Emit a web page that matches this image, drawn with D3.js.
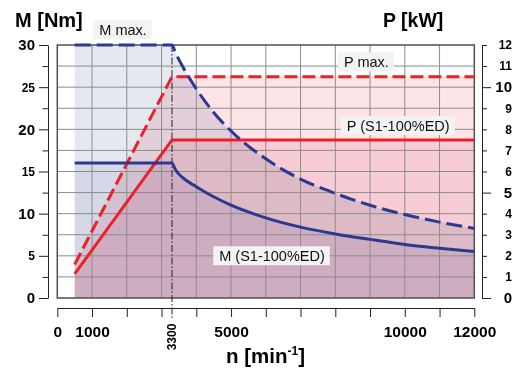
<!DOCTYPE html>
<html>
<head>
    <script type="text/javascript" src="https://cdn.jsdelivr.net/npm/d3@7/dist/d3.min.js" charset="utf-8"></script>
    <style>
        body { margin: 0; background: #fff; }
        svg text { font-family: "Liberation Sans", Arial, Helvetica, sans-serif; }
    </style>
</head>
<body>
    <div id="viz"></div>
    <script type="text/javascript">
    //Chart size
    var width = 524;
    var height = 374;

    //Torque curves (speed in min-1, torque in Nm)
    var speedPts = [500, 3300, 3400, 3600, 4000, 4500, 5000, 6000, 7000, 8000, 9000, 10000, 11000, 12000];
    var mMax     = [30, 30, 29.1, 27.5, 24.8, 22, 19.8, 16.5, 14.1, 12.4, 11, 9.9, 9, 8.25];
    var mS1      = [16, 16, 15.2, 14.3, 13.2, 12.0, 11.0, 9.5, 8.4, 7.6, 6.95, 6.35, 5.9, 5.5];

    //Power curves (speed in min-1, power in kW)
    var powerSpeed = [500, 3300, 12000];
    var pMax       = [1.59, 10.5, 10.5];
    var pS1        = [1.14, 7.5, 7.5];

    //Axis ticks
    var torqueTicks = [0, 2.5, 5, 7.5, 10, 12.5, 15, 17.5, 20, 22.5, 25, 27.5, 30];
    var powerTicks  = [0, 1, 2, 3, 4, 5, 6, 7, 8, 9, 10, 11, 12];
    var speedTicks  = [0, 1000, 2000, 3000, 4000, 5000, 6000, 7000, 8000, 9000, 10000, 11000, 12000];
    var speedLabels = [0, 1000, 5000, 10000, 12000];
    var cornerSpeed = 3300;

    //Curve labels: text, speed where text starts, torque at baseline
    var labelText  = ["M max.", "P max.", "P (S1-100%ED)", "M (S1-100%ED)"];
    var labelSpeed = [1210, 8250, 8330, 4660];
    var labelTorq  = [31.2, 27.4, 19.85, 4.42];

    //Colours
    var blue = "#2b3990";
    var red = "#e8212b";

    //Scales
    var x = d3.scaleLinear().domain([0, 12000]).range([57.3, 474.3]);
    var yM = d3.scaleLinear().domain([0, 30]).range([298, 45]);
    var yP = d3.scaleLinear().domain([0, 12]).range([298, 45]);

    var svg = d3.select("#viz")
        .append("svg")
        .attr("width", width)
        .attr("height", height);

    //Build point lists
    var mMaxData = speedPts.map(function(n, i) { return {n: n, v: mMax[i]}; });
    var mS1Data = speedPts.map(function(n, i) { return {n: n, v: mS1[i]}; });
    var pMaxData = powerSpeed.map(function(n, i) { return {n: n, v: pMax[i]}; });
    var pS1Data = powerSpeed.map(function(n, i) { return {n: n, v: pS1[i]}; });

    //Filled areas, multiplied on top of each other
    var areaM = d3.area().x(function(d) { return x(d.n); }).y0(yM(0)).y1(function(d) { return yM(d.v); }).curve(d3.curveMonotoneX);
    var areaP = d3.area().x(function(d) { return x(d.n); }).y0(yP(0)).y1(function(d) { return yP(d.v); });
    var fills = svg.append("g").style("isolation", "isolate");
    [[areaM, mMaxData, "#e5e8f0"], [areaP, pMaxData, "#fce4e7"], [areaP, pS1Data, "#fbe5ea"], [areaM, mS1Data, "#edeef6"]]
        .forEach(function(f) {
            fills.append("path")
                .attr("d", f[0](f[1]))
                .attr("fill", f[2])
                .style("mix-blend-mode", "multiply");
        });

    //Grid
    var grid = svg.append("g").attr("stroke", "#8c8c8c").attr("stroke-width", 1);
    grid.selectAll("line.v")
        .data(speedTicks.slice(1, -1))
        .enter().append("line")
        .attr("x1", function(d) { return x(d); }).attr("x2", function(d) { return x(d); })
        .attr("y1", yM(0)).attr("y2", yM(30));
    grid.selectAll("line.h")
        .data(torqueTicks.slice(1, -1))
        .enter().append("line")
        .attr("x1", x(0)).attr("x2", x(12000))
        .attr("y1", function(d) { return yM(d); }).attr("y2", function(d) { return yM(d); });

    //Plot frame
    svg.append("rect")
        .attr("x", x(0)).attr("y", yM(30))
        .attr("width", x(12000) - x(0)).attr("height", yM(0) - yM(30))
        .attr("fill", "none").attr("stroke", "#505050").attr("stroke-width", 1.5);

    //Corner speed dash-dot line
    svg.append("line")
        .attr("x1", x(cornerSpeed)).attr("x2", x(cornerSpeed))
        .attr("y1", yM(30)).attr("y2", 318)
        .attr("stroke", "#222").attr("stroke-width", 1)
        .attr("stroke-dasharray", "7,2,1.5,2");

    //Curves
    var lineM = d3.line().x(function(d) { return x(d.n); }).y(function(d) { return yM(d.v); }).curve(d3.curveMonotoneX);
    var lineP = d3.line().x(function(d) { return x(d.n); }).y(function(d) { return yP(d.v); });
    svg.append("path").attr("d", lineP(pS1Data)).attr("fill", "none").attr("stroke", red).attr("stroke-width", 3);
    svg.append("path").attr("d", lineP(pMaxData)).attr("fill", "none").attr("stroke", red).attr("stroke-width", 3)
        .attr("stroke-dasharray", "13,5");
    svg.append("path").attr("d", lineM(mS1Data)).attr("fill", "none").attr("stroke", blue).attr("stroke-width", 3);
    svg.append("path").attr("d", lineM(mMaxData)).attr("fill", "none").attr("stroke", blue).attr("stroke-width", 3)
        .attr("stroke-dasharray", "16,6");

    //Left axis (torque)
    var leftAxis = svg.append("g")
        .attr("transform", "translate(48,0)")
        .call(d3.axisLeft(yM).tickValues(torqueTicks).tickSizeOuter(0)
            .tickFormat(function(d) { return d % 5 === 0 ? d : ""; }));
    leftAxis.selectAll(".tick line").attr("x2", function(d) { return d % 5 === 0 ? -9 : -5.5; });
    leftAxis.selectAll(".tick text")
        .attr("x", -13)
        .style("font-weight", "bold")
        .style("font-size", function(d) { return d % 10 === 0 ? "15px" : "12px"; });

    //Right axis (power)
    var rightAxis = svg.append("g")
        .attr("transform", "translate(482,0)")
        .call(d3.axisRight(yP).tickValues(powerTicks).tickSizeOuter(0));
    rightAxis.selectAll(".tick line").attr("x2", function(d) { return d % 5 === 0 ? 9 : 5; });
    rightAxis.selectAll(".tick text")
        .attr("x", 30)
        .attr("text-anchor", "end")
        .style("font-weight", "bold")
        .style("font-size", function(d) { return d % 5 === 0 ? "15px" : "12px"; });

    //Bottom axis (speed)
    var bottomAxis = svg.append("g")
        .attr("transform", "translate(0,308)")
        .call(d3.axisBottom(x).tickValues(speedTicks).tickSize(9).tickSizeOuter(0)
            .tickFormat(function(d) { return speedLabels.indexOf(d) >= 0 ? d : ""; }));
    bottomAxis.selectAll(".tick text")
        .attr("y", 18)
        .style("font-weight", "bold")
        .style("font-size", "15.5px");
    svg.selectAll(".domain, .tick line").attr("stroke", "#222");

    svg.append("text")
        .attr("transform", "translate(" + x(cornerSpeed) + ",337) rotate(-90)")
        .attr("text-anchor", "middle")
        .attr("dy", "0.35em")
        .style("font-weight", "bold")
        .style("font-size", "12px")
        .text(cornerSpeed);

    //Axis titles
    svg.append("text").attr("x", 15).attr("y", 26.5)
        .style("font-weight", "bold").style("font-size", "20px").text("M [Nm]");
    svg.append("text").attr("x", 383).attr("y", 26.5)
        .style("font-weight", "bold").style("font-size", "19.5px").text("P [kW]");
    var nTitle = svg.append("text").attr("x", 226).attr("y", 362.5)
        .style("font-weight", "bold").style("font-size", "20.5px");
    nTitle.append("tspan").text("n [min");
    nTitle.append("tspan").attr("dy", -8).style("font-size", "12px").text("-1");
    nTitle.append("tspan").attr("dy", 8).text("]");

    //Curve labels with light boxes
    labelText.forEach(function(t, i) {
        var g = svg.append("g");
        var txt = g.append("text")
            .attr("x", x(labelSpeed[i]))
            .attr("y", yM(labelTorq[i]))
            .style("font-size", "14.5px")
            .attr("fill", "#111")
            .text(t);
        var b = txt.node().getBBox();
        g.insert("rect", "text")
            .attr("x", b.x - 6).attr("y", b.y - 1.5)
            .attr("width", b.width + 11).attr("height", b.height + 3)
            .attr("fill", "#f3f3f3");
    });
    </script>
</body>
</html>
